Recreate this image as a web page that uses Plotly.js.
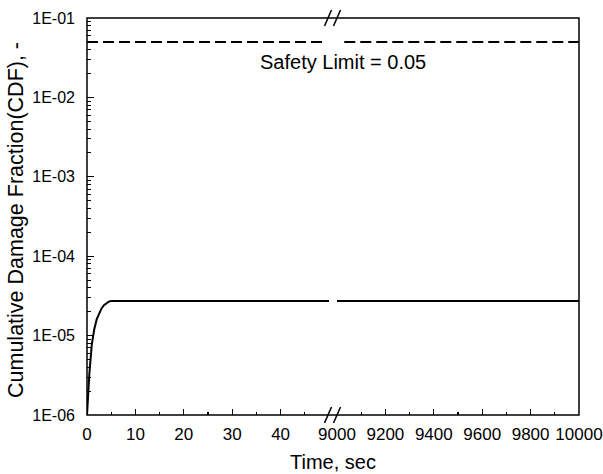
<!DOCTYPE html>
<html><head><meta charset="utf-8">
<script src="https://cdn.plot.ly/plotly-3.0.1.min.js"></script>
<style>body{margin:0;background:#fff}#chart{width:603px;height:474px}</style>
</head><body><div id="chart"></div>
<script>
// ---- data ----
const timeEarly = [0, 0.2, 0.5, 1.0, 1.5, 2.0, 2.5, 3.0, 3.5, 4.0, 4.5, 5.0, 6.0, 50];
const cdfEarly  = [1e-6, 1.8e-6, 3.4e-6, 7.8e-6, 1.2e-5, 1.6e-5, 1.9e-5, 2.2e-5, 2.42e-5, 2.58e-5, 2.68e-5, 2.72e-5, 2.72e-5, 2.72e-5];
const timeLate  = [9000, 10000];
const cdfLate   = [2.72e-5, 2.72e-5];
const limitEarlyX = [0, 49];
const limitLateX  = [9030, 10000];
const safetyLimit = 0.05;
const leftTicks  = [0, 10, 20, 30, 40];
const leftMinor  = [5, 15, 25, 35, 45];
const rightTicks = [9000, 9200, 9400, 9600, 9800, 10000];
const rightMinor = [9100, 9300, 9500, 9700, 9900];
const yTickVals  = [1e-6, 1e-5, 1e-4, 1e-3, 1e-2, 1e-1];
const yTickText  = ['1E-06', '1E-05', '1E-04', '1E-03', '1E-02', '1E-01'];

const yMinor = [];
yTickVals.slice(0, -1).forEach(d => { for (let k = 2; k <= 9; k++) yMinor.push(d * k); });

const FONT = 'Liberation Sans, Arial, sans-serif';
const blackLine = {color: '#000', width: 2};

const traces = [
  {x: timeEarly, y: cdfEarly, xaxis: 'x', yaxis: 'y', mode: 'lines', line: blackLine, hoverinfo: 'skip'},
  {x: timeLate, y: cdfLate, xaxis: 'x2', yaxis: 'y', mode: 'lines', line: blackLine, hoverinfo: 'skip'},
  {x: limitEarlyX, y: limitEarlyX.map(() => safetyLimit), xaxis: 'x', yaxis: 'y', mode: 'lines',
   line: {color: '#000', width: 2, dash: '11px,5px'}, hoverinfo: 'skip'},
  {x: limitLateX, y: limitLateX.map(() => safetyLimit), xaxis: 'x2', yaxis: 'y', mode: 'lines',
   line: {color: '#000', width: 2, dash: '11px,5px'}, hoverinfo: 'skip'}
];

const L = 87, R = 579, T = 18, B = 415;
const W = R - L, H = B - T;
const px = v => (v - L) / W;
const py = v => (B - v) / H;

function slash(cx, cy) {
  return {type: 'line', xref: 'paper', yref: 'paper',
    x0: px(cx - 3.5), y0: py(cy + 8), x1: px(cx + 3.5), y1: py(cy - 8),
    line: {color: '#000', width: 1.5}, layer: 'above'};
}

const axisCommon = {
  ticks: 'inside', ticklen: 6, tickwidth: 1.2, tickcolor: '#000',
  showgrid: false, zeroline: false, showline: false,
  tickfont: {family: FONT, size: 17, color: '#000'},
  fixedrange: true
};

const layout = {
  width: 603, height: 474,
  margin: {l: L, r: 603 - R, t: T, b: 474 - B},
  paper_bgcolor: '#fff', plot_bgcolor: '#fff',
  showlegend: false,
  xaxis: Object.assign({}, axisCommon, {
    domain: [0, px(329)], range: [0, 50], anchor: 'y',
    tickmode: 'array', tickvals: leftTicks, ticktext: leftTicks.map(String),
    ticklabelstandoff: 7,
    minor: {tickmode: 'array', tickvals: leftMinor, ticks: 'inside', ticklen: 3, tickcolor: '#000', tickwidth: 1.2}
  }),
  xaxis2: Object.assign({}, axisCommon, {
    domain: [px(337), 1], range: [9000, 10000], anchor: 'y',
    tickmode: 'array', tickvals: rightTicks, ticktext: rightTicks.map(String),
    ticklabelstandoff: 7,
    minor: {tickmode: 'array', tickvals: rightMinor, ticks: 'inside', ticklen: 3, tickcolor: '#000', tickwidth: 1.2}
  }),
  yaxis: Object.assign({}, axisCommon, {
    type: 'log', range: [-6, -1], domain: [0, 1], anchor: 'x',
    tickmode: 'array', tickvals: yTickVals, ticktext: yTickText,
    tickfont: {family: FONT, size: 16, color: '#000'},
    ticklen: 7, ticklabelstandoff: 11,
    minor: {tickmode: 'array', tickvals: yMinor, ticks: 'inside', ticklen: 4, tickcolor: '#000', tickwidth: 1}
  }),
  shapes: [
    {type: 'rect', xref: 'paper', yref: 'paper', x0: 0, x1: 1, y0: 0, y1: 1,
     line: {color: '#000', width: 1.5}, fillcolor: 'rgba(0,0,0,0)', layer: 'above'},
    slash(328, T), slash(337, T), slash(328, B), slash(337, B)
  ],
  annotations: [
    {text: 'Safety Limit = 0.05', xref: 'paper', yref: 'paper', x: px(343), y: py(62),
     showarrow: false, xanchor: 'center', yanchor: 'middle', font: {family: FONT, size: 20, color: '#000'}},
    {text: 'Time, sec', xref: 'paper', yref: 'paper', x: px(333), y: py(462),
     showarrow: false, xanchor: 'center', yanchor: 'middle', font: {family: FONT, size: 20, color: '#000'}},
    {text: 'Cumulative Damage Fraction(CDF), -', xref: 'paper', yref: 'paper', x: px(16), y: py(220),
     textangle: -90, showarrow: false, xanchor: 'center', yanchor: 'middle', font: {family: FONT, size: 21.5, color: '#000'}}
  ]
};

Plotly.newPlot('chart', traces, layout, {displayModeBar: false, staticPlot: true});
</script>
</body></html>
